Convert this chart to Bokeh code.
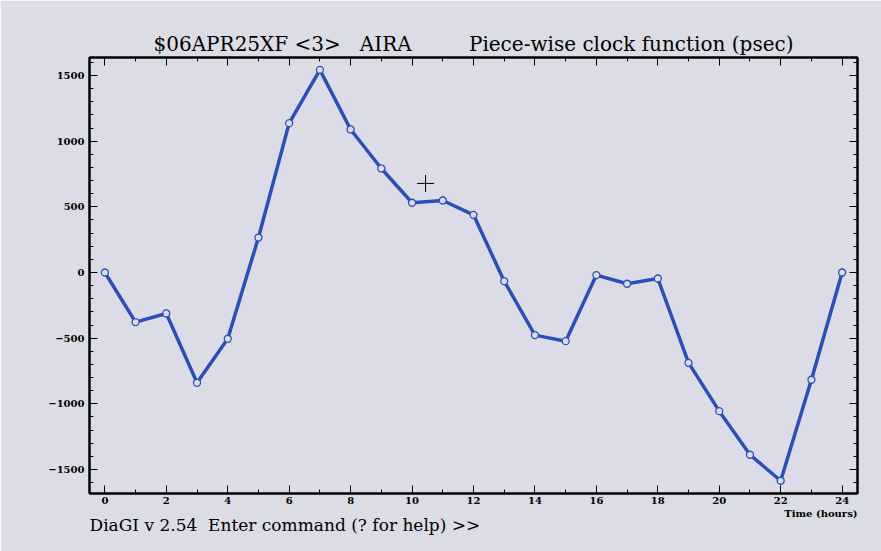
from bokeh.plotting import figure
from bokeh.models import Range1d, FixedTicker, LinearAxis, Title
from bokeh.embed import file_html
from bokeh.resources import INLINE

# ---- data ----
hours = [0, 1, 2, 3, 4, 5, 6, 7, 8, 9, 10, 11, 12, 13, 14, 15, 16, 17, 18, 19, 20, 21, 22, 23, 24]
clock_psec = [0, -378, -312, -840, -505, 266, 1137, 1543, 1089, 792, 531, 548, 439,
              -66, -477, -523, -20, -86, -46, -688, -1056, -1388, -1586, -817, 0]
x_major = [0, 2, 4, 6, 8, 10, 12, 14, 16, 18, 20, 22, 24]
x_minor = [1, 3, 5, 7, 9, 11, 13, 15, 17, 19, 21, 23]
y_major = [-1500, -1000, -500, 0, 500, 1000, 1500]
y_minor = list(range(-1600, 1700, 100))
cursor_x = [10.44]
cursor_y = [678]

NB = "\u00a0"
title_text = "$06APR25XF <3>" + NB * 3 + "AIRA" + NB * 9 + "Piece-wise clock function (psec)"
prompt = "DiaGI v 2.54" + NB * 2 + "Enter command (? for help) >>"
x_label = "Time (hours)"

BG = "#dcdce6"
BLUE = "#2a50b8"
SERIF = "DejaVu Serif"

W, H = 881, 551
ML, MR, MT, MB = 89, 24, 57, 58

p = figure(width=W, height=H, output_backend="svg", toolbar_location=None,
           x_range=Range1d(-0.5, 24.5), y_range=Range1d(-1683, 1637),
           min_border_left=ML, min_border_right=MR, min_border_top=MT, min_border_bottom=MB,
           background_fill_color=BG, border_fill_color=BG)
p.grid.visible = False
p.outline_line_color = "black"
p.outline_line_width = 2

xt = FixedTicker(ticks=x_major, minor_ticks=x_minor)
yt = FixedTicker(ticks=y_major, minor_ticks=y_minor)

def style(ax, labels=True):
    ax.major_tick_in = 8
    ax.major_tick_out = 0
    ax.minor_tick_in = 4
    ax.minor_tick_out = 0
    ax.axis_line_color = "black"
    ax.axis_line_width = 2
    ax.major_tick_line_color = "black"
    ax.minor_tick_line_color = "black"
    ax.major_tick_line_width = 1
    ax.minor_tick_line_width = 1
    ax.major_label_text_font = SERIF
    ax.major_label_text_font_size = "10px"
    ax.major_label_text_font_style = "bold"
    ax.major_label_text_color = "black"
    ax.major_label_standoff = 5
    if not labels:
        ax.major_label_text_font_size = "1px"
        ax.major_label_text_color = None
        ax.major_label_standoff = 0

p.xaxis.ticker = xt
p.yaxis.ticker = yt
style(p.xaxis[0])
style(p.yaxis[0])
p.xaxis[0].major_label_standoff = 3
top = LinearAxis(ticker=xt)
right = LinearAxis(ticker=yt)
style(top, False)
style(right, False)
p.add_layout(top, "above")
p.add_layout(right, "right")

p.line(hours, clock_psec, line_color=BLUE, line_width=3.5)
p.scatter(hours, clock_psec, size=7, marker="circle", fill_color=BG,
          line_color=BLUE, line_width=1.3)
p.scatter(cursor_x, cursor_y, marker="cross", size=17, line_color="black", line_width=1)

p.title = Title(text=title_text, align="center", text_font=SERIF, text_font_size="20px",
                text_font_style="normal", text_color="black", standoff=3)

p.add_layout(Title(text=x_label, align="right", text_font=SERIF, text_font_size="10px",
                   text_font_style="bold", text_color="black", standoff=-2), "below")
p.add_layout(Title(text=prompt, align="left", text_font=SERIF, text_font_size="17px",
                   text_font_style="normal", text_color="black", standoff=-10), "below")

open("out.html", "w").write(file_html(p, INLINE))
